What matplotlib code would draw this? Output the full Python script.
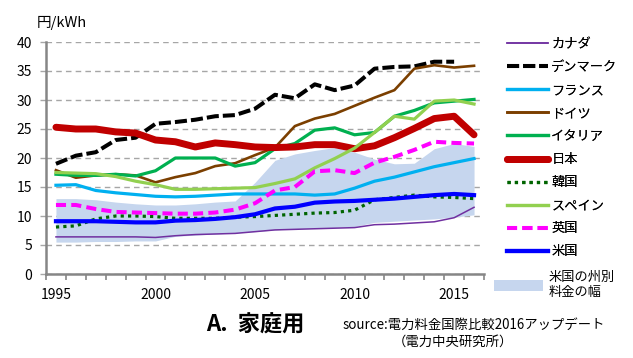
import matplotlib
matplotlib.use("Agg")
import matplotlib.pyplot as plt
from matplotlib.patches import Patch
import numpy as np

plt.rcParams['font.family'] = ['Noto Sans CJK JP', 'DejaVu Sans']

years = list(range(1995, 2017))

canada = [6.4, 6.4, 6.4, 6.4, 6.4, 6.3, 6.6, 6.8, 6.9, 7.0, 7.3, 7.6, 7.7, 7.8, 7.9, 8.0, 8.5, 8.6, 8.8, 9.0, 9.7, 11.5]
denmark = [19.0, 20.4, 21.0, 23.1, 23.5, 25.9, 26.2, 26.6, 27.2, 27.4, 28.5, 30.9, 30.3, 32.7, 31.7, 32.5, 35.4, 35.7, 35.8, 36.6, 36.6, np.nan]
france = [15.3, 15.4, 14.4, 14.0, 13.7, 13.4, 13.3, 13.4, 13.6, 13.8, 13.8, 13.8, 13.8, 13.6, 13.8, 14.8, 16.0, 16.7, 17.6, 18.5, 19.2, 19.9]
germany = [17.9, 16.6, 17.0, 17.2, 17.0, 15.8, 16.7, 17.4, 18.6, 19.1, 20.5, 21.8, 25.5, 26.8, 27.6, 29.0, 30.4, 31.7, 35.4, 36.0, 35.6, 35.9]
italy = [17.2, 17.0, 17.0, 17.2, 16.9, 17.8, 20.0, 20.0, 20.0, 18.6, 19.2, 21.6, 22.5, 24.8, 25.2, 24.0, 24.4, 27.2, 28.2, 29.5, 29.8, 30.1]
japan = [25.3, 25.0, 25.0, 24.5, 24.3, 23.1, 22.8, 21.9, 22.6, 22.3, 21.9, 21.8, 21.9, 22.3, 22.3, 21.6, 22.1, 23.5, 25.1, 26.8, 27.2, 24.0]
korea = [8.1, 8.3, 9.5, 10.0, 10.0, 9.9, 9.6, 9.6, 9.6, 9.8, 9.9, 10.1, 10.3, 10.5, 10.6, 11.0, 12.8, 13.2, 13.6, 13.3, 13.2, 13.0]
spain = [17.5, 17.4, 17.3, 16.8, 16.0, 15.4, 14.6, 14.6, 14.7, 14.8, 14.9, 15.6, 16.4, 18.3, 19.9, 21.7, 24.4, 27.2, 26.7, 29.8, 30.0, 29.3]
uk = [11.9, 11.9, 11.2, 10.7, 10.6, 10.5, 10.4, 10.4, 10.6, 11.1, 12.2, 14.4, 15.0, 17.7, 17.9, 17.4, 19.2, 20.2, 21.4, 22.8, 22.6, 22.5]
usa = [9.1, 9.1, 9.1, 9.0, 8.9, 8.9, 9.2, 9.3, 9.5, 9.8, 10.3, 11.3, 11.6, 12.3, 12.5, 12.6, 12.8, 13.0, 13.3, 13.6, 13.8, 13.6]

band_low = [5.5, 5.5, 5.6, 5.6, 5.7, 5.7, 6.5, 6.7, 6.9, 7.1, 7.3, 7.6, 7.8, 7.9, 8.0, 8.2, 8.9, 9.1, 9.3, 9.5, 9.8, 10.2]
band_high = [13.0, 13.0, 12.8, 12.4, 12.1, 11.9, 11.9, 12.1, 12.4, 12.6, 15.8, 19.6, 20.7, 21.3, 21.8, 21.0, 19.8, 19.0, 19.1, 21.6, 22.5, 22.0]

label_years = [1995, 2000, 2005, 2010, 2015]

fig = plt.figure(figsize=(6.33, 3.58), dpi=100)
ax = fig.add_axes([46/633, 1-274/358, 438/633, 232/358])

ax.fill_between(years, band_low, band_high, color='#C6D6EE', lw=0, zorder=1)

lines = []
lines.append(ax.plot(years, canada, color='#7030A0', lw=1.1, label='カナダ')[0])
lines.append(ax.plot(years, denmark, color='black', lw=2.9, dashes=(3, 1), label='デンマーク')[0])
lines.append(ax.plot(years, france, color='#00B0F0', lw=2.3, label='フランス')[0])
lines.append(ax.plot(years, germany, color='#7B3F00', lw=1.9, label='ドイツ')[0])
lines.append(ax.plot(years, italy, color='#00B050', lw=2.3, label='イタリア')[0])
lines.append(ax.plot(years, japan, color='#C00000', lw=5, solid_capstyle='round', label='日本')[0])
lines.append(ax.plot(years, korea, color='#006400', lw=2.3, dashes=(1, 1.3), label='韓国')[0])
lines.append(ax.plot(years, spain, color='#92D050', lw=2.3, label='スペイン')[0])
lines.append(ax.plot(years, uk, color='#FF00FF', lw=2.9, dashes=(2.5, 1.3), label='英国')[0])
lines.append(ax.plot(years, usa, color='#0000FF', lw=3, label='米国')[0])

ax.set_xlim(1994.5, 2016.5)
ax.set_ylim(0, 40)
ax.set_yticks(range(0, 41, 5))
ax.set_xticks(label_years)
ax.set_xticks(np.arange(1994.5, 2017, 1), minor=True)
ax.tick_params(axis='x', which='major', length=0, pad=10, labelsize=10)
ax.tick_params(axis='x', which='minor', length=4, width=1.2, color='#868686')
ax.tick_params(axis='y', length=4, width=1, color='#A6A6A6', pad=6, labelsize=10)
ax.yaxis.grid(True, color='#A6A6A6', lw=1, dashes=(4, 3))
ax.set_axisbelow(True)

for s in ['top', 'right']:
    ax.spines[s].set_visible(False)
for s in ['left', 'bottom']:
    ax.spines[s].set_color('#868686')
    ax.spines[s].set_linewidth(1.8)

fig.text(37/633, 1-23/358, '円/kWh', fontsize=10.5, va='center', ha='left')

leg1 = fig.legend(handles=lines, loc='upper left', bbox_to_anchor=(507/633, 1-38/358),
                  frameon=False, fontsize=9.5, handlelength=3.1, handletextpad=0.25,
                  labelspacing=0.76, borderpad=0, borderaxespad=0)
fig.add_artist(leg1)
band_patch = Patch(facecolor='#C6D6EE', edgecolor='none')
fig.legend(handles=[band_patch], labels=['米国の州別\n料金の幅'], loc='upper left',
           bbox_to_anchor=(494/633, 1-271/358), frameon=False, fontsize=9.5,
           handlelength=3.7, handleheight=1.0, handletextpad=0.45, borderpad=0, borderaxespad=0)

fig.text(255/633, 1-325/358, 'A.  家庭用', fontsize=16, fontweight='bold', ha='center', va='center')
fig.text(343/633, 1-325/358, 'source:電力料金国際比較2016アップデート', fontsize=9.6, ha='left', va='center')
fig.text(393/633, 1-342/358, '（電力中央研究所）', fontsize=9.6, ha='left', va='center')

fig.savefig('out.png', dpi=100)
